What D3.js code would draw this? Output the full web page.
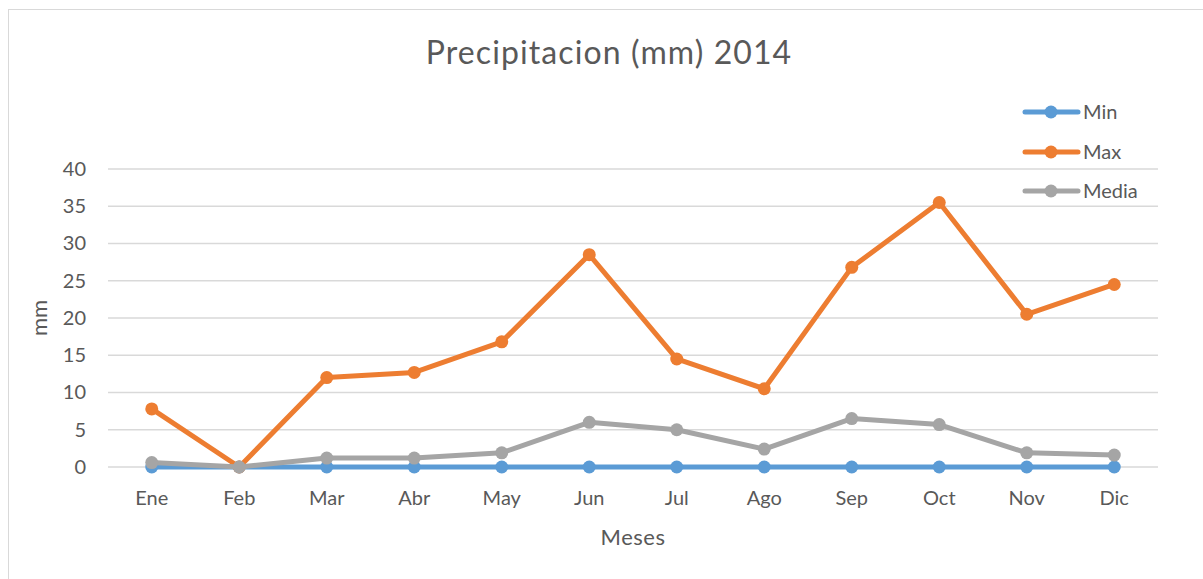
<!DOCTYPE html>
<html><head><meta charset="utf-8">
<script src="https://cdn.jsdelivr.net/npm/d3@7"></script>
<style>html,body{margin:0;padding:0;background:#fff;}svg{display:block;}</style>
</head><body>
<script>
const months = ["Ene","Feb","Mar","Abr","May","Jun","Jul","Ago","Sep","Oct","Nov","Dic"];
const minVals = [0,0,0,0,0,0,0,0,0,0,0,0];
const maxVals = [7.8,0,12,12.7,16.8,28.5,14.5,10.5,26.8,35.5,20.5,24.5];
const mediaVals = [0.6,0,1.2,1.2,1.9,6.0,5.0,2.4,6.5,5.7,1.9,1.6];
const yTicks = [0,5,10,15,20,25,30,35,40];
const seriesNames = ["Min","Max","Media"];
const seriesColors = ["#5b9bd5","#ed7d31","#a5a5a5"];
const titleText = "Precipitacion (mm) 2014";
const xTitle = "Meses";
const yTitle = "mm";

const W = 1203, H = 579;
const font = "Lato, 'Open Sans', sans-serif";
const svg = d3.select("body").append("svg").attr("width", W).attr("height", H);
svg.append("rect").attr("x",8.5).attr("y",9.5).attr("width",W).attr("height",H)
  .attr("fill","#fff").attr("stroke","#d9d9d9").attr("stroke-width",1);

const x = d3.scaleBand().domain(months).range([108,1158]);
const y = d3.scaleLinear().domain([0,40]).range([467,169]);

// gridlines
svg.append("g").selectAll("line").data(yTicks).join("line")
  .attr("x1",108).attr("x2",1158).attr("y1",d=>y(d)).attr("y2",d=>y(d))
  .attr("stroke","#d9d9d9").attr("stroke-width",1.3);

// y axis labels
const yAxis = svg.append("g").attr("transform","translate(86,0)")
  .call(d3.axisLeft(y).tickValues(yTicks).tickSize(0).tickPadding(0));
yAxis.select(".domain").remove();
yAxis.selectAll("text").attr("font-family",font).attr("font-size",20).attr("fill","#595959");

// x axis labels
const xAxis = svg.append("g").attr("transform","translate(0,490)")
  .call(d3.axisBottom(x).tickSize(0).tickPadding(0));
xAxis.select(".domain").remove();
xAxis.selectAll("text").attr("font-family",font).attr("font-size",20).attr("fill","#595959").attr("dy","0.75em");

// titles
svg.append("text").attr("x",609).attr("y",64).attr("text-anchor","middle")
  .attr("font-family",font).attr("font-size",32).attr("letter-spacing","1.1px").attr("fill","#595959").text(titleText);
svg.append("text").attr("x",633).attr("y",545).attr("text-anchor","middle")
  .attr("font-family",font).attr("font-size",22).attr("letter-spacing","0.5px").attr("fill","#595959").text(xTitle);
svg.append("text").attr("transform","translate(47,318) rotate(-90)").attr("text-anchor","middle")
  .attr("font-family",font).attr("font-size",22).attr("fill","#595959").text(yTitle);

const allSeries = [minVals, maxVals, mediaVals];
const line = d3.line().x((d,i)=>x(months[i])+x.bandwidth()/2).y(d=>y(d));
allSeries.forEach((vals,si)=>{
  const g = svg.append("g");
  g.append("path").datum(vals).attr("d",line).attr("fill","none")
    .attr("stroke",seriesColors[si]).attr("stroke-width",5).attr("stroke-linejoin","round").attr("stroke-linecap","round");
  g.selectAll("circle").data(vals).join("circle")
    .attr("cx",(d,i)=>x(months[i])+x.bandwidth()/2).attr("cy",d=>y(d)).attr("r",6.5)
    .attr("fill",seriesColors[si]);
});

// legend
const leg = svg.append("g");
const legY = [112,152,191];
seriesNames.forEach((n,i)=>{
  leg.append("line").attr("x1",1025).attr("x2",1078).attr("y1",legY[i]).attr("y2",legY[i])
    .attr("stroke",seriesColors[i]).attr("stroke-width",5).attr("stroke-linecap","round");
  leg.append("circle").attr("cx",1051).attr("cy",legY[i]).attr("r",6.5).attr("fill",seriesColors[i]);
  leg.append("text").attr("x",1083).attr("y",legY[i]).attr("dy","0.35em")
    .attr("font-family",font).attr("font-size",20).attr("fill","#595959").text(n);
});
</script>
</body></html>
